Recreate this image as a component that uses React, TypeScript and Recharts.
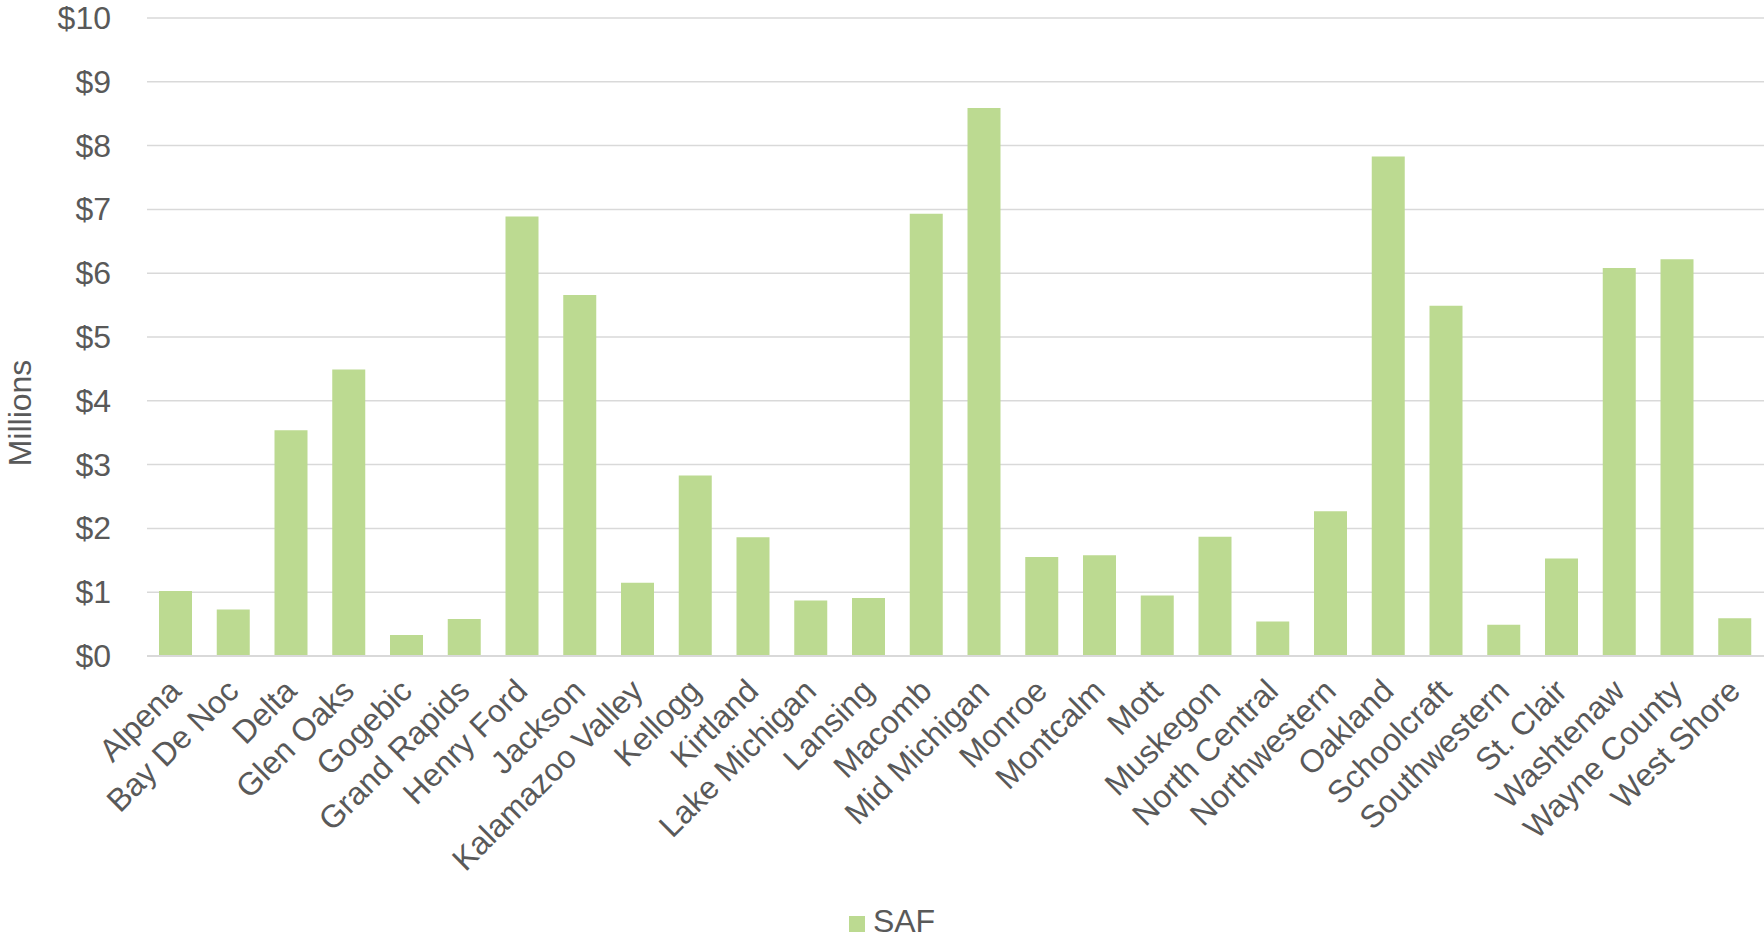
import React from "react";
import { BarChart, Bar, XAxis, YAxis, CartesianGrid, Legend } from "recharts";

const categories = [
  "Alpena", "Bay De Noc", "Delta", "Glen Oaks", "Gogebic", "Grand Rapids", "Henry Ford",
  "Jackson", "Kalamazoo Valley", "Kellogg", "Kirtland", "Lake Michigan", "Lansing", "Macomb",
  "Mid Michigan", "Monroe", "Montcalm", "Mott", "Muskegon", "North Central", "Northwestern",
  "Oakland", "Schoolcraft", "Southwestern", "St. Clair", "Washtenaw", "Wayne County", "West Shore",
];

// SAF, in millions of dollars
const safValues = [
  1.02, 0.73, 3.54, 4.49, 0.33, 0.58, 6.89,
  5.66, 1.15, 2.83, 1.86, 0.87, 0.91, 6.93,
  8.59, 1.55, 1.58, 0.95, 1.87, 0.54, 2.27,
  7.83, 5.49, 0.49, 1.53, 6.08, 6.22, 0.59,
];

const yTicks = [0, 1, 2, 3, 4, 5, 6, 7, 8, 9, 10];

const data = categories.map((name, i) => ({ name, SAF: safValues[i] }));

const FONT = "'Liberation Sans', Arial, sans-serif";
const TEXT = "#595959";
const BAR = "#bcda91";
const GRID = "#d9d9d9";

function CategoryTick({ x, y, payload }: any) {
  return (
    <g transform={`translate(${x + 7},${y + 37})`}>
      <text
        x={0}
        y={0}
        textAnchor="end"
        transform="rotate(-45)"
        fill={TEXT}
        fontSize={32}
        fontFamily={FONT}
      >
        {payload.value}
      </text>
    </g>
  );
}

function ValueTick({ x, y, payload }: any) {
  return (
    <text
      x={x - 36}
      y={y}
      dy={11}
      textAnchor="end"
      fill={TEXT}
      fontSize={32}
      fontFamily={FONT}
    >
      {`$${payload.value}`}
    </text>
  );
}

function AxisTitle({ viewBox }: any) {
  const cy = viewBox.y + viewBox.height / 2 + 76;
  return (
    <text
      x={31}
      y={cy}
      textAnchor="middle"
      transform={`rotate(-90, 31, ${cy})`}
      fill={TEXT}
      fontSize={32}
      fontFamily={FONT}
    >
      Millions
    </text>
  );
}

function SafLegend() {
  return (
    <div
      style={{
        height: 40,
        display: "flex",
        justifyContent: "center",
        alignItems: "center",
        paddingTop: 12,
        boxSizing: "border-box",
        fontFamily: FONT,
        fontSize: 32,
        color: TEXT,
      }}
    >
      <span style={{ width: 16, height: 16, marginTop: 6, background: BAR, display: "inline-block", marginRight: 8, marginLeft: 20 }} />
      <span>SAF</span>
    </div>
  );
}

export default function App() {
  return (
    <div style={{ position: "absolute", left: 0, top: 0, width: 1764, height: 935, background: "#fff" }}>
      <BarChart
        width={1764}
        height={935}
        data={data}
        margin={{ top: 18, right: 0, bottom: 0, left: 0 }}
      >
        <CartesianGrid vertical={false} stroke={GRID} strokeWidth={1.5} />
        <XAxis
          dataKey="name"
          interval={0}
          height={239}
          tickSize={0}
          tickMargin={0}
          tickLine={false}
          axisLine={{ stroke: GRID, strokeWidth: 2 }}
          tick={<CategoryTick />}
        />
        <YAxis
          width={147}
          domain={[0, 10]}
          ticks={yTicks}
          tickSize={0}
          tickMargin={0}
          tickLine={false}
          axisLine={false}
          tick={<ValueTick />}
          label={<AxisTitle />}
        />
        <Legend verticalAlign="bottom" height={40} content={<SafLegend />} />
        <Bar dataKey="SAF" fill={BAR} barSize={33} isAnimationActive={false} />
      </BarChart>
    </div>
  );
}
